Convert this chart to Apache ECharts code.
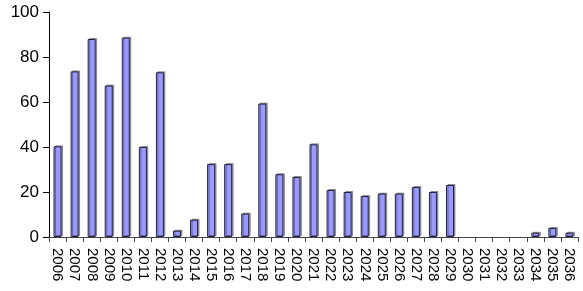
<!DOCTYPE html>
<html><head><meta charset="utf-8">
<script src="https://cdn.jsdelivr.net/npm/echarts@6/dist/echarts.min.js"></script>
<style>html,body{margin:0;padding:0;background:#fff}#c{width:583px;height:291px}</style>
</head><body><div id="c"></div>
<script>
const categories = ['2006','2007','2008','2009','2010','2011','2012','2013','2014','2015','2016','2017','2018','2019','2020','2021','2022','2023','2024','2025','2026','2027','2028','2029','2030','2031','2032','2033','2034','2035','2036'];
const values = [40.3,73.6,88,67.3,88.6,40,73.2,2.8,7.7,32.4,32.4,10.4,59.3,27.9,26.7,41.2,20.9,20,18.2,19.3,19.3,22.2,20,23.1,0,0,0,0,1.9,4,1.9];
const yTicks = {min:0,max:100,interval:20};
const chart = echarts.init(document.getElementById('c'));
chart.setOption({
  animation:false,
  grid:{left:49,right:5,top:12,bottom:54},
  xAxis:{type:'category',data:categories,
    axisLine:{lineStyle:{color:'#444',width:1}},
    axisTick:{show:true,alignWithLabel:false,length:5,lineStyle:{color:'#444'}},
    axisLabel:{rotate:-90,interval:0,margin:11,color:'#000',fontFamily:'Liberation Sans, Arial',fontSize:15}},
  yAxis:{type:'value',min:yTicks.min,max:yTicks.max,interval:yTicks.interval,
    splitLine:{show:false},
    axisLine:{show:true,lineStyle:{color:'#000',width:1}},
    axisTick:{show:true,length:6,lineStyle:{color:'#000'}},
    axisLabel:{color:'#000',fontFamily:'Liberation Sans, Arial',fontSize:17,margin:10}},
  series:[{type:'bar',data:values.map(v => v === 0 ? null : v),barWidth:8,
    itemStyle:{color:'#9999FF',borderColor:'#222244',borderWidth:1,
      shadowColor:'rgba(0,0,0,0.35)',shadowOffsetX:1.5,shadowOffsetY:-1,shadowBlur:0}}]
});
</script></body></html>
